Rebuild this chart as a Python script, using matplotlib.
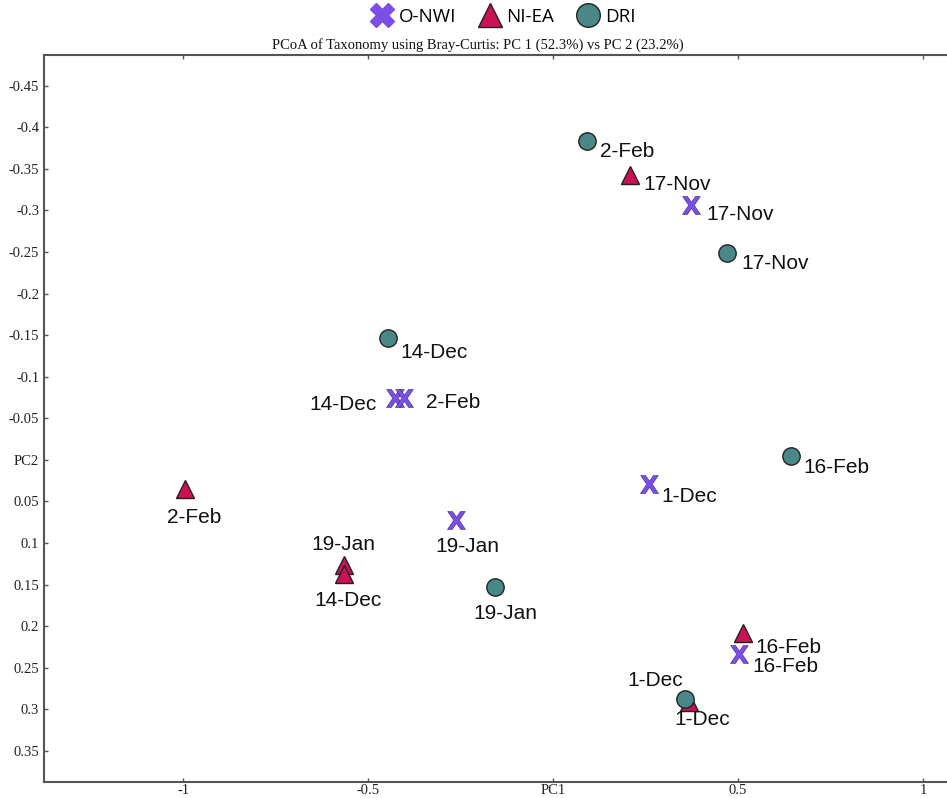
import matplotlib
matplotlib.use("Agg")
import matplotlib.pyplot as plt
from matplotlib.lines import Line2D

# ---- data ----
groups = ["O-NWI", "NI-EA", "DRI"]

onwi_labels = ["17-Nov", "14-Dec", "2-Feb", "1-Dec", "19-Jan", "16-Feb"]
onwi_pc1 = [0.373, -0.427, -0.403, 0.259, -0.262, 0.503]
onwi_pc2 = [-0.307, -0.075, -0.075, 0.029, 0.072, 0.233]

niea_labels = ["17-Nov", "2-Feb", "19-Jan", "14-Dec", "16-Feb", "1-Dec"]
niea_pc1 = [0.208, -0.995, -0.565, -0.565, 0.514, 0.368]
niea_pc2 = [-0.343, 0.035, 0.126, 0.137, 0.208, 0.291]

dri_labels = ["2-Feb", "17-Nov", "14-Dec", "16-Feb", "19-Jan", "1-Dec"]
dri_pc1 = [0.092, 0.470, -0.446, 0.643, -0.157, 0.357]
dri_pc2 = [-0.384, -0.249, -0.146, -0.005, 0.153, 0.288]

xticks = [-1, -0.5, 0, 0.5, 1]
xticklabels = ["-1", "-0.5", "PC1", "0.5", "1"]
yticks = [-0.45, -0.4, -0.35, -0.3, -0.25, -0.2, -0.15, -0.1, -0.05, 0,
          0.05, 0.1, 0.15, 0.2, 0.25, 0.3, 0.35]
yticklabels = ["-0.45", "-0.4", "-0.35", "-0.3", "-0.25", "-0.2", "-0.15", "-0.1",
               "-0.05", "PC2", "0.05", "0.1", "0.15", "0.2", "0.25", "0.3", "0.35"]

title = "PCoA of Taxonomy using Bray-Curtis: PC 1 (52.3%) vs PC 2 (23.2%)"

# label offsets in pixels (dx right, dy down) and horizontal alignment
onwi_off = [(15, 10, "left"), (-18, 7, "right"), (22, 5, "left"),
            (13, 13, "left"), (11, 27, "center"), (13, 13, "left")]
niea_off = [(13, 10, "left"), (9, 29, "center"), (-1, -20, "center"),
            (4, 27, "center"), (12, 15, "left"), (13, 18, "center")]
dri_off = [(13, 11, "left"), (14, 11, "left"), (12, 14, "left"),
           (12, 12, "left"), (10, 26, "center"), (-2, -19, "right")]

# ---- style ----
c_x = "#7B4FE6"
c_tri = "#CC1157"
c_circ = "#4A8887"
edge = "#222222"
spine_c = "#555555"

W, H = 947, 798
fig = plt.figure(figsize=(W / 100, H / 100), dpi=100)
ax = fig.add_axes([44 / W, (H - 782) / H, (947 - 44) / W, (782 - 55) / H])

ax.set_xlim(-1.376, 1.065)
ax.set_ylim(0.3875, -0.487)

ax.plot(niea_pc1, niea_pc2, linestyle="none", marker="^", ms=13,
        mfc=c_tri, mec=edge, mew=1.0, zorder=3)
ax.plot(dri_pc1, dri_pc2, linestyle="none", marker="o", ms=12.5,
        mfc=c_circ, mec=edge, mew=1.0, zorder=4)
ax.plot(onwi_pc1, onwi_pc2, linestyle="none", marker=r"$\mathbf{X}$", ms=13,
        mfc=c_x, mec="#3a2380", mew=0.4, zorder=5)

lab_font = dict(family="Liberation Sans", fontsize=15, color="#111111")

def annotate(xs, ys, labels, offs):
    for x, y, t, (dx, dy, ha) in zip(xs, ys, labels, offs):
        ax.annotate(t, (x, y), xytext=(dx * 0.72, -dy * 0.72),
                    textcoords="offset points", ha=ha, va="center", **lab_font)

annotate(dri_pc1, dri_pc2, dri_labels, dri_off)
annotate(niea_pc1, niea_pc2, niea_labels, niea_off)
annotate(onwi_pc1, onwi_pc2, onwi_labels, onwi_off)

ax.set_xticks(xticks)
ax.set_xticklabels(xticklabels)
ax.set_yticks(yticks)
ax.set_yticklabels(yticklabels)
ax.tick_params(direction="in", length=3, width=1, color=spine_c,
               top=True, labelsize=10.5, labelcolor="#222222")
ax.tick_params(axis="x", pad=1.5)
for lab in ax.get_xticklabels() + ax.get_yticklabels():
    lab.set_family("Liberation Serif")

for s in ["left", "bottom", "top"]:
    ax.spines[s].set_color(spine_c)
    ax.spines[s].set_linewidth(1.5)
ax.spines["right"].set_visible(False)

fig.text(478 / W, 1 - 45 / H, title, ha="center", va="center",
         family="Liberation Serif", fontsize=10.5, color="#111111")

handles = [
    Line2D([], [], linestyle="none", marker="X", ms=17, mfc=c_x, mec=c_x, label=groups[0]),
    Line2D([], [], linestyle="none", marker="^", ms=17, mfc=c_tri, mec=edge, mew=1.0, label=groups[1]),
    Line2D([], [], linestyle="none", marker="o", ms=17, mfc=c_circ, mec=edge, mew=1.0, label=groups[2]),
]
fig.legend(handles=handles, loc="center", bbox_to_anchor=(503 / W, 1 - 17 / H),
           ncol=3, frameon=False, prop=dict(family="Open Sans", size=13.5),
           handletextpad=0.3, columnspacing=1.2, handlelength=1.2)

fig.savefig("out.png", dpi=100)
